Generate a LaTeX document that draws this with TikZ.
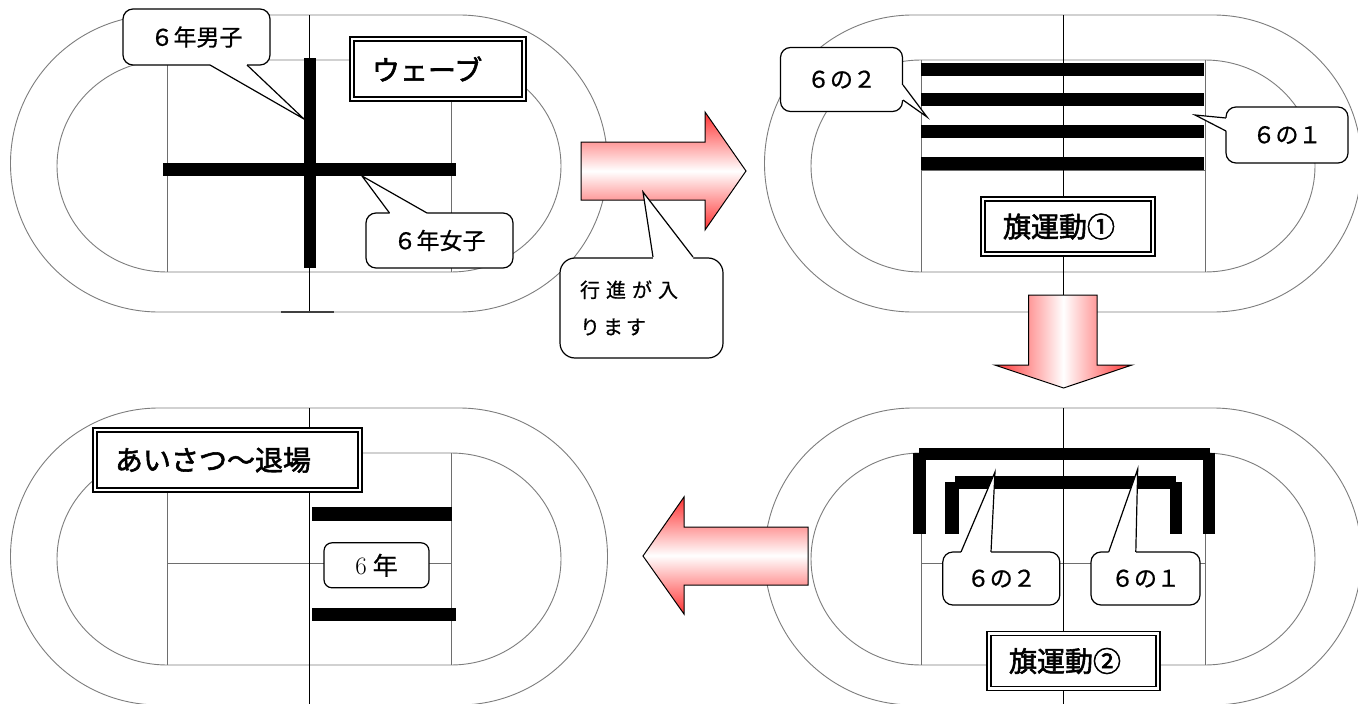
\documentclass[tikz,border=0pt]{standalone}
\usepackage{fontspec}
\newfontfamily\jp{Noto Sans CJK JP}[FakeBold=0.7]
\newfontfamily\jpm{Noto Sans CJK JP}[FakeBold=2]
\usetikzlibrary{calc}
\definecolor{arrred}{RGB}{255,50,50}
\definecolor{trackgray}{RGB}{125,125,125}
\definecolor{lanegray}{RGB}{110,110,110}
\tikzset{
  trk/.style={draw=trackgray, line width=0.9pt},
  lane/.style={draw=lanegray, line width=0.8pt},
  cline/.style={draw=black, line width=1pt},
  bar/.style={fill=black},
  callout/.style={draw=black, fill=white, line width=1.2pt, rounded corners=10pt, inner sep=0pt,
    font=\jp\fontsize{23}{27}\selectfont},
  titlebox/.style={draw=black, fill=white, double=white, double distance=2.5pt, line width=1.5pt,
    inner xsep=20pt, inner ysep=0pt, align=left, font=\jpm\fontsize{28}{32}\selectfont},
  bigarrow/.style={draw=black, line width=1pt, line join=miter},
  ptr/.style={draw=black, line width=1.2pt, line join=miter},
}
\newcommand\pointer[4]{%
  \fill[white] ($(#1)+(#4)$) -- (#1) -- (#2) -- (#3) -- ($(#3)+(#4)$) -- cycle;
  \draw[ptr] (#1) -- (#2) -- (#3);}
\begin{document}
\begin{tikzpicture}[x=1pt,y=-1pt]
\useasboundingbox (0,0) rectangle (1358,704);
\fill[white] (0,0) rectangle (1358,704);

% ---------- four tracks ----------
\foreach \dx/\dy in {0/0,754/0,0/393,754/393}{
  \begin{scope}[shift={(\dx,\dy)}]
    \draw[trk] (159,15) -- (459,15) arc[start angle=-90,end angle=90,radius=148.5]
      -- (159,312) arc[start angle=90,end angle=270,radius=148.5] -- cycle;
    \draw[trk] (167,60) -- (451,60) arc[start angle=-90,end angle=90,x radius=110,y radius=106]
      -- (167,272) arc[start angle=90,end angle=270,x radius=110,y radius=106] -- cycle;
    \draw[lane] (167,60) -- (167,272);
    \draw[lane] (451,60) -- (451,272);
    \draw[lane] (167,170) -- (451,170);
    \draw[cline] (309,15) -- (309,312);
  \end{scope}
}
\draw[line width=1.6pt, black!75] (281,312) -- (334,312);

% ---------- top left : wave ----------
\fill[bar] (304,58) rectangle (316,268);
\fill[bar] (163,163) rectangle (455.5,176);
\node[callout, minimum width=147pt, minimum height=56pt] (boys) at (196.5,37) {６年男子};
\pointer{210,65}{304,119}{247,65}{0,-2}
\node[callout, minimum width=147pt, minimum height=55pt] (girls) at (439.5,240.5) {６年女子};
\pointer{389.5,213}{362,176}{427,213}{0,2}
\node[titlebox, text width=132pt, minimum height=60pt] (wave) at (438,69) {ウェーブ};

% ---------- arrow right + march callout ----------
\path[bigarrow, top color=arrred, bottom color=arrred, middle color=white]
  (581,142) -- (705,142) -- (705,112) -- (746,171) -- (705,230) -- (705,200) -- (581,200) -- cycle;
\node[callout, rounded corners=15pt, minimum width=163pt, minimum height=100pt, text width=123pt,
  inner xsep=20pt, align=left, font=\jp\fontsize{20}{37}\selectfont] (march) at (641.5,308)
  {行\kern6pt 進\kern6pt が\kern6pt 入\\り\kern3pt ま\kern3pt す};
\pointer{653,257}{643,192}{693,257}{0,2}

% ---------- top right : flag 1 ----------
\foreach \y in {63,93,125,157}{\fill[bar] (920.6,\y) rectangle (1203.7,\y+13);}
\node[callout, minimum width=122pt, minimum height=64pt] (c62a) at (841.5,79.5) {６の２};
\pointer{903,85}{927,117}{903,100}{-2,0}
\node[callout, minimum width=122pt, minimum height=56pt] (c61a) at (1287,135) {６の１};
\pointer{1226,118}{1195,115}{1226,131}{2,0}
\node[titlebox, text width=130pt, minimum height=55pt] (flag1) at (1068,226.5) {旗運動①};

% ---------- arrow down ----------
\path[bigarrow, left color=arrred, right color=arrred, middle color=white]
  (1028.6,295) -- (1097,295) -- (1097,365) -- (1132,365) -- (1063.6,388) -- (994.6,365) -- (1028.6,365) -- cycle;

% ---------- bottom right : flag 2 ----------
\fill[bar] (919.4,447.7) rectangle (1209.5,460);
\fill[bar] (913,453) rectangle (926.4,534);
\fill[bar] (1203,453) rectangle (1215,534);
\fill[bar] (954.7,476) rectangle (1175.7,489);
\fill[bar] (945,481.7) rectangle (958.6,534);
\fill[bar] (1169.5,482) rectangle (1182,534);
\node[callout, minimum width=117pt, minimum height=53pt] (c62b) at (1001.3,578.5) {６の２};
\pointer{961,552}{995,472}{991,552}{0,2}
\node[callout, minimum width=109pt, minimum height=53pt] (c61b) at (1145.5,578.5) {６の１};
\pointer{1108.7,552}{1137.7,469}{1135.8,552}{0,2}
\node[titlebox, text width=129pt, minimum height=55pt] (flag2) at (1073.5,661) {旗運動②};

% ---------- arrow left ----------
\path[bigarrow, top color=arrred, bottom color=arrred, middle color=white]
  (808,527) -- (684,527) -- (684,497) -- (643,556) -- (684,614) -- (684,585) -- (808,585) -- cycle;

% ---------- bottom left : greeting ----------
\fill[bar] (312,507) rectangle (452,520.7);
\fill[bar] (312,608) rectangle (455.5,621);
\node[callout, rounded corners=8pt, minimum width=105pt, minimum height=45pt,
  font=\rmfamily\fontsize{25}{29}\selectfont] (six) at (376.5,565.3) {6\kern6pt{\jp 年}};
\node[titlebox, text width=225pt, minimum height=60pt] (greet) at (227.5,460) {あいさつ～退場};
\end{tikzpicture}
\end{document}
